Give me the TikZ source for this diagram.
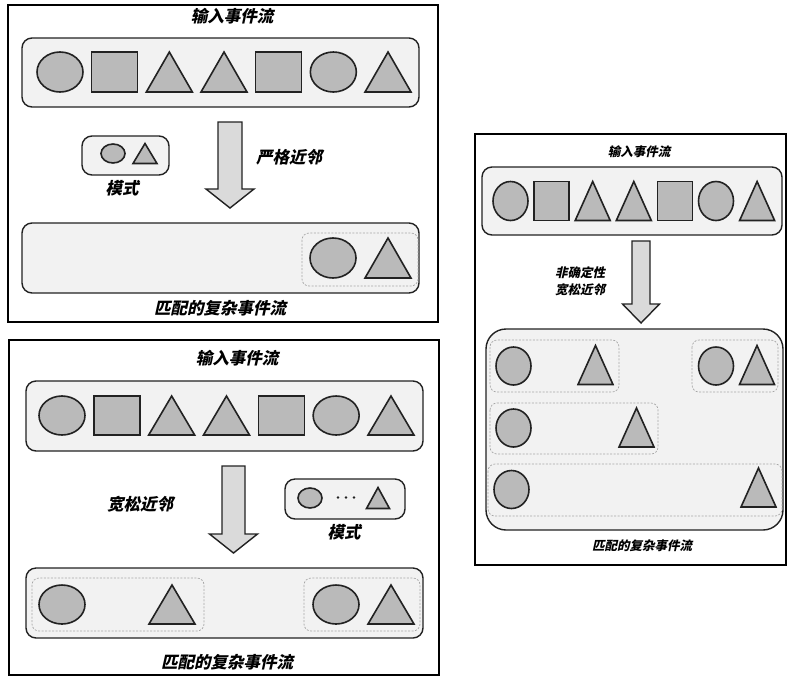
\documentclass[tikz,border=0pt]{standalone}
\usepackage{fontspec}
\newfontfamily\cjk[FakeSlant=0.22]{Noto Sans CJK SC}
\definecolor{boxfill}{HTML}{F2F2F2}
\definecolor{shpfill}{HTML}{BABABA}
\definecolor{arrfill}{HTML}{DADADA}
\definecolor{edge}{HTML}{222222}
\tikzset{
  frame/.style={draw=black, line width=1.8pt},
  streambox/.style={draw=edge, fill=boxfill, line width=1.4pt, rounded corners=10pt},
  dashbox/.style={draw=gray!70, dash pattern=on 2pt off 1.5pt, line width=0.7pt, rounded corners=7pt},
  shp/.style={draw=edge, fill=shpfill, line width=1.6pt, line join=miter},
  arr/.style={draw=edge, fill=arrfill, line width=1.4pt, line join=miter},
  lbl/.style={font=\cjk\bfseries\fontsize{16.5}{18}\selectfont, inner sep=0pt},
  lbls/.style={font=\cjk\bfseries\fontsize{12.5}{15}\selectfont, inner sep=0pt, align=center},
  pics/ell/.style 2 args={code={\draw[shp] (0,0) ellipse [x radius={(#1)/2}, y radius={(#2)/2}];}},
  pics/sq/.style 2 args={code={\draw[shp] ({-(#1)/2},{-(#2)/2}) rectangle ({(#1)/2},{(#2)/2});}},
  pics/tri/.style 2 args={code={\draw[shp] ({-(#1)/2},{(#2)/2}) -- (0,{-(#2)/2}) -- ({(#1)/2},{(#2)/2}) -- cycle;}},
  pics/stream/.style n args={3}{code={
    \pic at (0,0) {ell={#2}{#3}};
    \pic at ({#1},0) {sq={#2}{#3}};
    \pic at ({2*#1},0) {tri={#2}{#3}};
    \pic at ({3*#1},0) {tri={#2}{#3}};
    \pic at ({4*#1},0) {sq={#2}{#3}};
    \pic at ({5*#1},0) {ell={#2}{#3}};
    \pic at ({6*#1},0) {tri={#2}{#3}};
  }},
  pics/bigarrow/.style n args={4}{code={\draw[arr] ({-(#1)},0) -- ({#1},0) -- ({#1},{#3}) -- ({#2},{#3}) -- (0,{#4}) -- ({-(#2)},{#3}) -- ({-(#1)},{#3}) -- cycle;}},
}
\begin{document}
\begin{tikzpicture}[x=1pt,y=-1pt]
\useasboundingbox[fill=white] (0,0) rectangle (794,678);

% ---------- Panel 1 ----------
\draw[frame] (8,5) rectangle (438,322);
\node[lbl] (p1title) at (232,16) {输入事件流};
\draw[streambox] (22,38) rectangle (419,107);
\pic at (60,72) {stream={54.67}{46}{40}};
\draw[streambox] (82,136) rectangle (169,175);
\pic at (113,153.5) {ell={24}{19}};
\pic at (145,153.5) {tri={24}{20}};
\node[lbl] (p1pat) at (122,188) {模式};
\pic at (230,122) {bigarrow={12}{24}{67}{86}};
\node[lbl] (p1rule) at (289,157) {严格近邻};
\draw[streambox] (22,223) rectangle (419,293);
\draw[dashbox] (302,233) rectangle (418,286);
\pic at (333,258) {ell={46}{40}};
\pic at (388,258) {tri={46}{40}};
\node[lbl] (p1out) at (220,308) {匹配的复杂事件流};

% ---------- Panel 2 ----------
\draw[frame] (9,340) rectangle (439,675);
\node[lbl] (p2title) at (237,358) {输入事件流};
\draw[streambox] (26,381) rectangle (423,451);
\pic at (62,415.5) {stream={54.83}{46}{39}};
\pic at (233.5,466) {bigarrow={11.5}{24}{68}{87}};
\node[lbl] (p2rule) at (140,504) {宽松近邻};
\draw[streambox] (285,479) rectangle (405,519);
\pic at (310,498) {ell={24}{20}};
\foreach \dx in {338,346,354} \fill[edge] (\dx,497.5) circle (1.3);
\pic at (378,498) {tri={23}{21}};
\node[lbl] (p2pat) at (344,532) {模式};
\draw[streambox] (26,568) rectangle (423,638);
\draw[dashbox] (32,578) rectangle (204,631);
\pic at (62,604.5) {ell={46}{39}};
\pic at (172,604.5) {tri={46}{39}};
\draw[dashbox] (304,578) rectangle (420,631);
\pic at (336,604.5) {ell={46}{39}};
\pic at (391,604.5) {tri={46}{39}};
\node[lbl] (p2out) at (227,662) {匹配的复杂事件流};

% ---------- Panel 3 ----------
\draw[frame] (475,134) rectangle (786,565);
\node[lbls] (p3title) at (639,152) {输入事件流};
\draw[streambox] (482,167) rectangle (782,235);
\pic at (510.5,201) {stream={41.1}{35}{39}};
\pic at (641,241) {bigarrow={9}{18.5}{63}{82}};
\node[lbls] (p3rule) at (580,281.5) {非确定性\\[2pt]宽松近邻};
\draw[streambox, rounded corners=20pt] (486,329) rectangle (783,530);
\draw[dashbox] (490,340) rectangle (619,392);
\pic at (513.5,366) {ell={35}{38}};
\pic at (595.5,365) {tri={35}{39}};
\draw[dashbox] (692,340) rectangle (778,392);
\pic at (716,366) {ell={35}{38}};
\pic at (757,365) {tri={35}{39}};
\draw[dashbox] (490,403) rectangle (658,454);
\pic at (513.5,428) {ell={35}{38}};
\pic at (636.5,427.5) {tri={35}{39}};
\draw[dashbox] (488,464) rectangle (782,516);
\pic at (511.5,489.5) {ell={35}{38}};
\pic at (758.5,487.5) {tri={35}{39}};
\node[lbls] (p3out) at (642,546) {匹配的复杂事件流};
\end{tikzpicture}
\end{document}
